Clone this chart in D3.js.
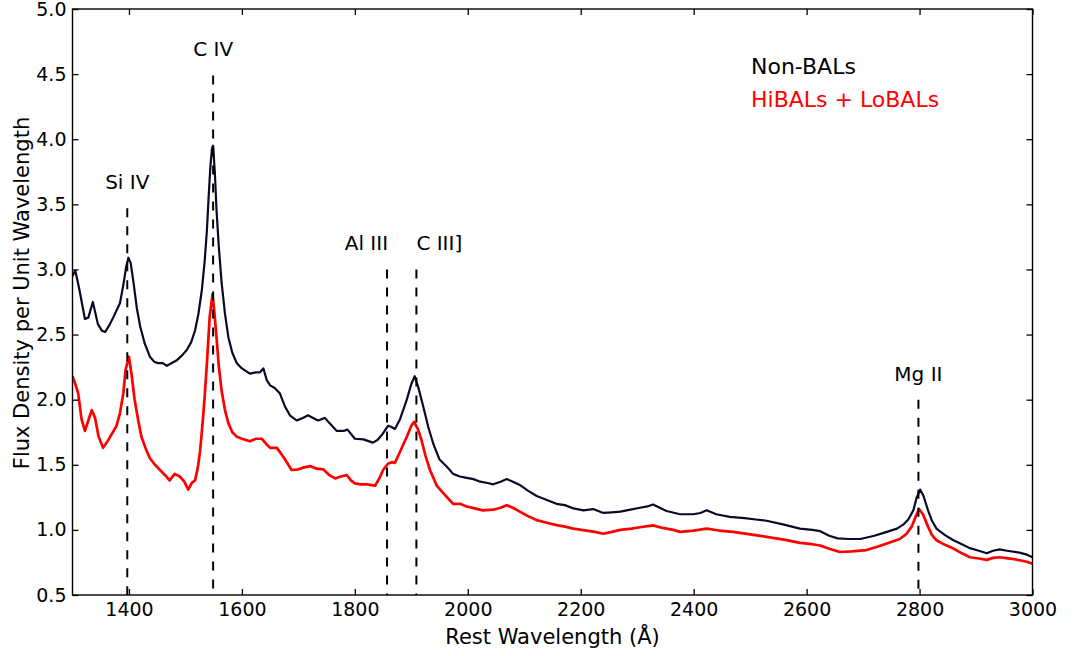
<!DOCTYPE html>
<html>
<head>
<meta charset="utf-8">
<script src="https://cdn.jsdelivr.net/npm/d3@7"></script>
<style>
  body { margin: 0; background: #fff; }
  svg text { font-family: "DejaVu Sans", sans-serif; }
</style>
</head>
<body>
<div id="chart"></div>
<script>
// composite spectra
const nonBalWave = [1300,1305,1312,1322,1328,1336,1345,1352,1358,1365,1372,1384,1390,1395,1399,1403,1408,1414,1420,1428,1437,1445,1452,1460,1467,1475,1484,1494,1502,1510,1517,1523,1529,1534,1538,1541,1544,1547,1549,1552,1555,1559,1564,1570,1576,1583,1591,1600,1614,1625,1632,1638,1644,1650,1658,1667,1676,1685,1697,1708,1717,1726,1735,1747,1755,1768,1780,1787,1800,1815,1832,1840,1848,1859,1865,1871,1880,1892,1900,1906,1912,1921,1930,1939,1950,1963,1974,1986,1998,2010,2022,2035,2045,2058,2069,2080,2092,2107,2122,2140,2157,2172,2187,2205,2222,2240,2255,2270,2288,2305,2318,2328,2340,2352,2376,2399,2412,2423,2440,2464,2490,2510,2529,2560,2588,2610,2624,2640,2655,2675,2695,2720,2742,2760,2771,2780,2789,2795,2801,2807,2815,2822,2830,2845,2860,2875,2889,2905,2919,2930,2942,2955,2977,2990,3000];
const nonBalFlux = [2.95,2.99,2.85,2.62,2.63,2.75,2.58,2.53,2.52,2.57,2.63,2.74,2.88,3.02,3.09,3.05,2.90,2.70,2.56,2.43,2.33,2.29,2.28,2.28,2.26,2.28,2.30,2.34,2.38,2.44,2.53,2.66,2.84,3.06,3.30,3.55,3.78,3.93,3.95,3.75,3.46,3.18,2.90,2.66,2.48,2.36,2.28,2.24,2.20,2.21,2.21,2.24,2.15,2.11,2.09,2.05,1.95,1.88,1.84,1.86,1.88,1.86,1.84,1.86,1.82,1.76,1.76,1.77,1.70,1.695,1.67,1.69,1.73,1.80,1.79,1.775,1.85,2.00,2.12,2.18,2.10,1.95,1.79,1.66,1.54,1.485,1.43,1.41,1.40,1.39,1.37,1.36,1.35,1.37,1.39,1.37,1.345,1.30,1.26,1.23,1.20,1.19,1.165,1.15,1.16,1.13,1.135,1.14,1.155,1.17,1.18,1.195,1.17,1.145,1.12,1.12,1.13,1.15,1.12,1.10,1.09,1.08,1.07,1.04,1.01,1.00,0.99,0.955,0.935,0.93,0.93,0.955,0.985,1.01,1.04,1.08,1.15,1.25,1.31,1.26,1.15,1.07,1.01,0.96,0.92,0.89,0.86,0.84,0.82,0.84,0.85,0.84,0.825,0.81,0.79];

const balWave = [1300,1305,1310,1316,1322,1328,1334,1340,1346,1354,1362,1372,1378,1384,1390,1394,1400,1405,1410,1416,1422,1430,1437,1446,1455,1464,1472,1481,1490,1498,1505,1511,1517,1522,1526,1530,1534,1538,1543,1548,1551,1555,1559,1564,1570,1576,1583,1591,1600,1614,1625,1635,1643,1650,1662,1675,1688,1700,1710,1721,1732,1744,1755,1765,1775,1786,1793,1800,1810,1821,1836,1844,1850,1859,1866,1871,1880,1892,1900,1905,1912,1918,1925,1933,1945,1957,1974,1986,1998,2012,2027,2045,2058,2069,2080,2092,2107,2122,2140,2157,2172,2187,2210,2225,2240,2255,2270,2290,2305,2328,2345,2364,2376,2400,2423,2445,2470,2500,2529,2560,2588,2610,2624,2640,2659,2680,2706,2725,2742,2765,2777,2786,2793,2799,2806,2815,2822,2830,2845,2860,2875,2889,2905,2919,2930,2942,2960,2977,2990,3000];
const balFlux = [2.18,2.12,2.05,1.85,1.76,1.84,1.92,1.86,1.72,1.63,1.68,1.755,1.80,1.895,2.05,2.23,2.33,2.18,2.00,1.85,1.715,1.62,1.55,1.50,1.46,1.42,1.38,1.43,1.41,1.37,1.31,1.36,1.38,1.48,1.61,1.80,2.02,2.28,2.64,2.81,2.68,2.48,2.26,2.07,1.92,1.82,1.75,1.715,1.70,1.68,1.70,1.70,1.66,1.63,1.63,1.55,1.46,1.465,1.48,1.49,1.47,1.465,1.42,1.395,1.41,1.42,1.38,1.357,1.35,1.35,1.34,1.40,1.46,1.51,1.52,1.515,1.60,1.715,1.80,1.83,1.77,1.69,1.57,1.46,1.34,1.28,1.20,1.20,1.18,1.165,1.15,1.155,1.17,1.19,1.17,1.14,1.105,1.075,1.055,1.037,1.025,1.01,0.995,0.985,0.97,0.985,1.0,1.01,1.02,1.035,1.015,1.0,0.985,0.995,1.01,0.995,0.985,0.965,0.947,0.925,0.90,0.89,0.88,0.855,0.83,0.835,0.845,0.87,0.896,0.93,0.97,1.025,1.10,1.16,1.12,1.025,0.96,0.92,0.885,0.857,0.82,0.79,0.78,0.77,0.785,0.79,0.78,0.767,0.755,0.74];

// emission line markers
const lineNames = ["Si IV", "C IV", "Al III", "C III]", "Mg II"];
const lineWaves = [1397, 1549, 1857, 1909, 2798];
const lineTops = [3.47, 4.49, 3.0, 3.0, 2.0];

const seriesNames = ["Non-BALs", "HiBALs + LoBALs"];
const xTicks = [1400, 1600, 1800, 2000, 2200, 2400, 2600, 2800, 3000];
const yTicks = [0.5, 1.0, 1.5, 2.0, 2.5, 3.0, 3.5, 4.0, 4.5, 5.0];

const width = 1076;
const height = 656;
const plotLeft = 72.5, plotRight = 1032.5, plotTop = 9, plotBottom = 595;

const svg = d3.select('#chart').append('svg')
  .attr('width', width)
  .attr('height', height);

const x = d3.scaleLinear().domain([1300, 3000]).range([plotLeft, plotRight]);
const y = d3.scaleLinear().domain([0.5, 5.0]).range([plotBottom, plotTop]);

svg.append('defs').append('clipPath').attr('id', 'clip')
  .append('rect')
  .attr('x', plotLeft).attr('y', plotTop)
  .attr('width', plotRight - plotLeft).attr('height', plotBottom - plotTop);

const plot = svg.append('g').attr('clip-path', 'url(#clip)');

const line = d3.line()
  .x(d => x(d[0]))
  .y(d => y(d[1]));

plot.append('path')
  .datum(d3.zip(nonBalWave, nonBalFlux))
  .attr('fill', 'none')
  .attr('stroke', '#0a0a28')
  .attr('stroke-width', 2.2)
  .attr('stroke-linejoin', 'round')
  .attr('d', line);

plot.append('path')
  .datum(d3.zip(balWave, balFlux))
  .attr('fill', 'none')
  .attr('stroke', '#ff0000')
  .attr('stroke-width', 2.7)
  .attr('stroke-linejoin', 'round')
  .attr('d', line);

// dashed markers, drawn from the top down
plot.selectAll('.marker')
  .data(lineWaves)
  .enter()
  .append('line')
  .attr('class', 'marker')
  .attr('x1', d => x(d))
  .attr('x2', d => x(d))
  .attr('y1', (d, i) => y(lineTops[i]))
  .attr('y2', y(0.5))
  .attr('stroke', '#000')
  .attr('stroke-width', 2)
  .attr('stroke-dasharray', '9,9');

const anchorFor = { "Al III": "end", "C III]": "start" };
svg.selectAll('.linelabel')
  .data(lineNames)
  .enter()
  .append('text')
  .attr('class', 'linelabel')
  .attr('x', (d, i) => x(lineWaves[i]) + (d === "Al III" ? 1 : 0))
  .attr('y', (d, i) => y(lineTops[i]) - 19)
  .attr('text-anchor', d => anchorFor[d] || 'middle')
  .attr('font-size', 20)
  .attr('fill', '#000')
  .text(d => d);

// axes: ticks point inward on all four sides
const fmtY = d3.format('.1f');
svg.append('g')
  .attr('transform', `translate(0, ${plotBottom})`)
  .call(d3.axisBottom(x).tickValues(xTicks).tickSize(-6).tickPadding(8).tickFormat(d3.format('d')))
  .call(g => g.select('.domain').remove());
svg.append('g')
  .attr('transform', `translate(0, ${plotTop})`)
  .call(d3.axisTop(x).tickValues(xTicks).tickSize(-6).tickFormat(''))
  .call(g => g.select('.domain').remove());
svg.append('g')
  .attr('transform', `translate(${plotLeft}, 0)`)
  .call(d3.axisLeft(y).tickValues(yTicks).tickSize(-6).tickPadding(6).tickFormat(fmtY))
  .call(g => g.select('.domain').remove());
svg.append('g')
  .attr('transform', `translate(${plotRight}, 0)`)
  .call(d3.axisRight(y).tickValues(yTicks).tickSize(-6).tickFormat(''))
  .call(g => g.select('.domain').remove());

svg.selectAll('.tick line').attr('stroke', '#000').attr('stroke-width', 1.3);
svg.selectAll('.tick text')
  .attr('fill', '#000')
  .attr('font-size', 19)
  .attr('font-family', '"DejaVu Sans", sans-serif');

svg.append('rect')
  .attr('x', plotLeft).attr('y', plotTop)
  .attr('width', plotRight - plotLeft).attr('height', plotBottom - plotTop)
  .attr('fill', 'none')
  .attr('stroke', '#000')
  .attr('stroke-width', 1.4);

svg.append('text')
  .attr('x', (plotLeft + plotRight) / 2)
  .attr('y', 644)
  .attr('text-anchor', 'middle')
  .attr('font-size', 21)
  .text('Rest Wavelength (Å)');

svg.append('text')
  .attr('transform', 'translate(28.5, 293) rotate(-90)')
  .attr('text-anchor', 'middle')
  .attr('font-size', 21)
  .text('Flux Density per Unit Wavelength');

// legend as coloured text
const legendColors = ['#000', '#ff0000'];
svg.selectAll('.legend')
  .data(seriesNames)
  .enter()
  .append('text')
  .attr('class', 'legend')
  .attr('x', 751)
  .attr('y', (d, i) => 74 + i * 32.5)
  .attr('font-size', 22)
  .attr('fill', (d, i) => legendColors[i])
  .text(d => d);
</script>
</body>
</html>
